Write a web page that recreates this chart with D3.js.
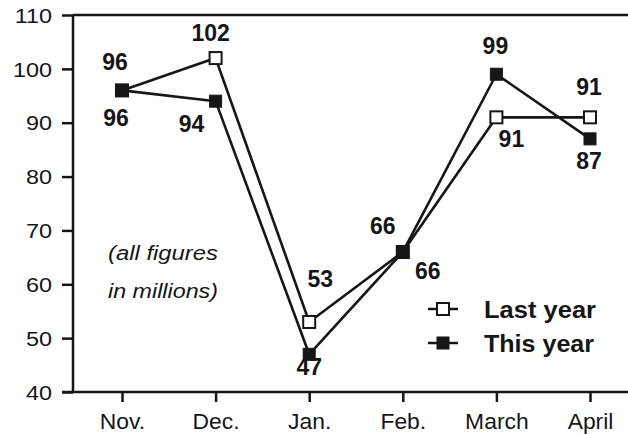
<!DOCTYPE html>
<html>
<head>
<meta charset="utf-8">
<script src="https://cdn.jsdelivr.net/npm/d3@7"></script>
<style>
html,body{margin:0;padding:0;background:#fff;}
svg{display:block;font-family:"Liberation Sans",Arial,Helvetica,sans-serif;}
</style>
</head>
<body>
<svg id="chart" width="628" height="434"></svg>
<script>
const months = ["Nov.", "Dec.", "Jan.", "Feb.", "March", "April"];
const lastYear = [96, 102, 53, 66, 91, 91];
const thisYear = [96, 94, 47, 66, 99, 87];
const yTicks = [40, 50, 60, 70, 80, 90, 100, 110];
const seriesNames = ["Last year", "This year"];

// label offsets relative to markers (layout, kept in code)
const lastOffsets = [[-7,-20],[-5,-17],[11,-35],[-20,-18],[15,30],[-1,-22]];
const thisOffsets = [[-6,36],[-24,31],[0,21],[25,27],[-1,-20],[-1,30]];

const svg = d3.select("#chart");
const x = d3.scalePoint().domain(months).range([122, 590]);
const y = d3.scaleLinear().domain([40, 110]).range([392, 15]);
const left = 73, right = 628;
const ink = "#161616";

function stretch(sel, factor) {
  sel.each(function () {
    const len = this.getComputedTextLength();
    d3.select(this).attr("textLength", len * factor).attr("lengthAdjust", "spacingAndGlyphs");
  });
}

// top frame line
svg.append("line").attr("x1", left).attr("x2", right).attr("y1", y(110)).attr("y2", y(110))
  .attr("stroke", ink).attr("stroke-width", 2.5);

// y axis
const yAxis = d3.axisLeft(y).tickValues(yTicks).tickSize(11).tickPadding(10);
const gy = svg.append("g").attr("transform", `translate(${left},0)`).call(yAxis);
gy.select(".domain").attr("stroke", ink).attr("stroke-width", 2.5).attr("d", `M0,${y(110)}V${y(40)}`);
gy.selectAll(".tick line").attr("stroke", ink).attr("stroke-width", 2.5);
gy.selectAll(".tick text").attr("font-size", 20).attr("fill", ink)
  .attr("font-family", "Liberation Sans, Arial, sans-serif").attr("dy", "0.36em");
stretch(gy.selectAll(".tick text"), 1.17);

// x axis
const xAxis = d3.axisBottom(x).tickSize(10).tickPadding(11);
const gx = svg.append("g").attr("transform", `translate(0,${y(40)})`).call(xAxis);
gx.select(".domain").attr("stroke", ink).attr("stroke-width", 2.5).attr("d", `M${left - 11},0H${right}`);
gx.selectAll(".tick line").attr("stroke", ink).attr("stroke-width", 2.5);
gx.selectAll(".tick text").attr("font-size", 22).attr("fill", ink)
  .attr("font-family", "Liberation Sans, Arial, sans-serif");
stretch(gx.selectAll(".tick text"), 1.04);

// note
const note = svg.append("text").attr("font-style", "italic").attr("font-size", 20).attr("fill", ink);
note.append("tspan").attr("x", 108).attr("y", 260).attr("textLength", 110).attr("lengthAdjust", "spacingAndGlyphs").text("(all figures");
note.append("tspan").attr("x", 108).attr("y", 298).attr("textLength", 110).attr("lengthAdjust", "spacingAndGlyphs").text("in millions)");

const line = d3.line().x((d, i) => x(months[i])).y(d => y(d));

function drawSeries(vals, filled, offsets) {
  svg.append("path").datum(vals).attr("d", line).attr("fill", "none")
    .attr("stroke", ink).attr("stroke-width", 2.6).attr("stroke-linejoin", "round");
  svg.selectAll(null).data(vals).enter().append("rect")
    .attr("x", (d, i) => x(months[i]) - 6).attr("y", d => y(d) - 6)
    .attr("width", 12).attr("height", 12)
    .attr("fill", filled ? ink : "#fff").attr("stroke", ink).attr("stroke-width", filled ? 1 : 2);
  svg.selectAll(null).data(vals).enter().append("text")
    .attr("x", (d, i) => x(months[i]) + offsets[i][0])
    .attr("y", (d, i) => y(d) + offsets[i][1])
    .attr("text-anchor", "middle").attr("font-weight", "bold").attr("font-size", 23)
    .attr("fill", ink).text(d => d);
}
drawSeries(lastYear, false, lastOffsets);
drawSeries(thisYear, true, thisOffsets);

// legend
const legend = svg.append("g");
seriesNames.forEach((name, i) => {
  const ly = 309 + i * 34;
  legend.append("line").attr("x1", 428).attr("x2", 458).attr("y1", ly).attr("y2", ly)
    .attr("stroke", ink).attr("stroke-width", 2.5);
  legend.append("rect").attr("x", 437).attr("y", ly - 6).attr("width", 12).attr("height", 12)
    .attr("fill", i === 0 ? "#fff" : ink).attr("stroke", ink).attr("stroke-width", i === 0 ? 2 : 1);
  legend.append("text").attr("x", 484).attr("y", ly + 9).attr("font-size", 23)
    .attr("font-weight", "bold").attr("fill", ink)
    .attr("textLength", i === 0 ? 112 : 110).attr("lengthAdjust", "spacingAndGlyphs").text(name);
});
</script>
</body>
</html>
